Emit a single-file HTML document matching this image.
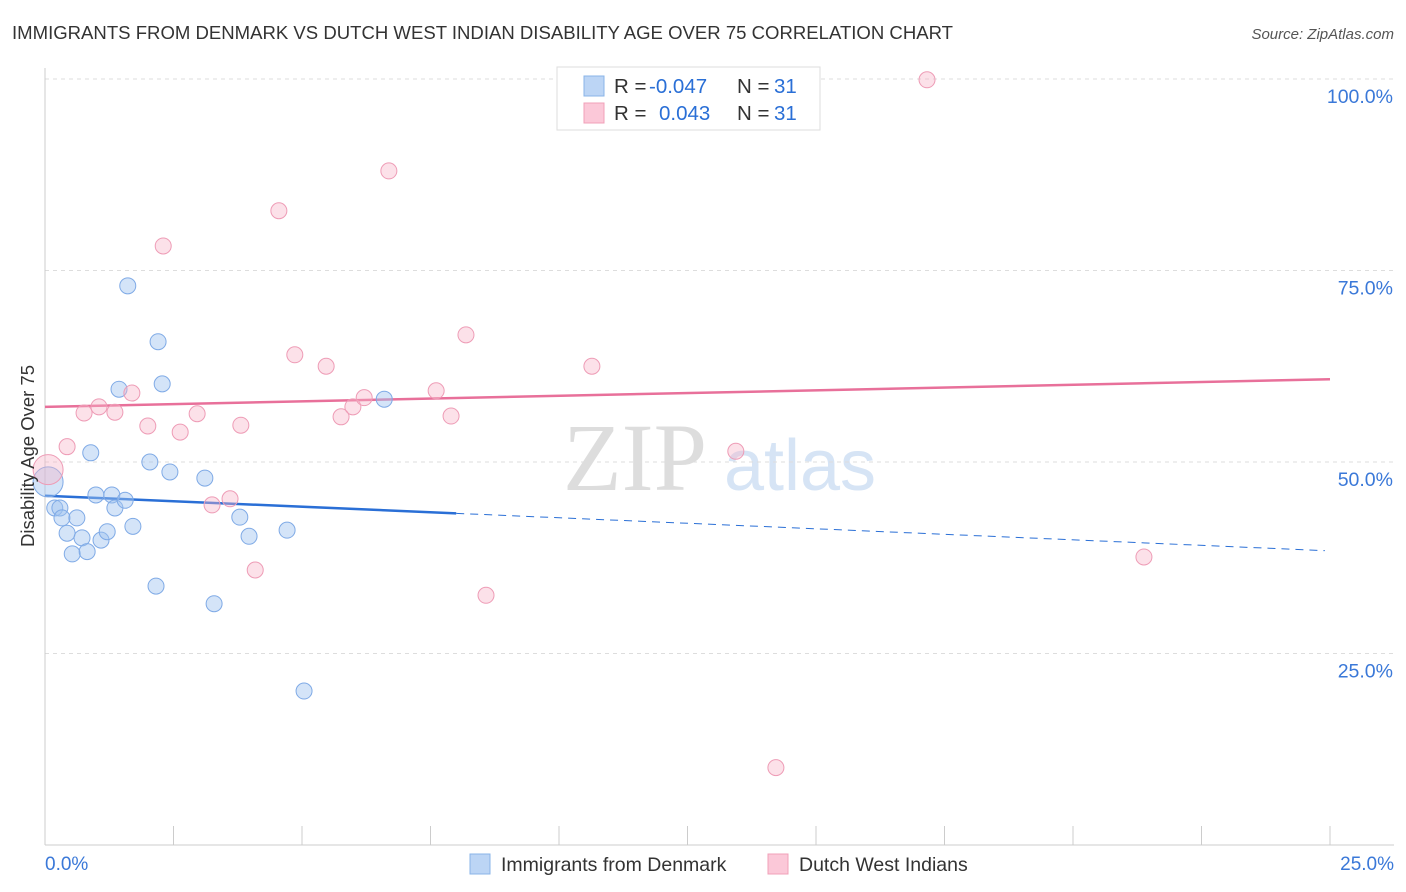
<!DOCTYPE html>
<html><head><meta charset="utf-8"><style>
body{margin:0;background:#fff;font-family:"Liberation Sans",sans-serif;}
svg{display:block}
</style></head><body>
<svg id="chart" width="1406" height="892">
<text x="12" y="39" font-size="18" fill="#333" textLength="941" lengthAdjust="spacingAndGlyphs">IMMIGRANTS FROM DENMARK VS DUTCH WEST INDIAN DISABILITY AGE OVER 75 CORRELATION CHART</text>
<text x="1394" y="39" font-size="15" fill="#555" font-style="italic" text-anchor="end">Source: ZipAtlas.com</text>
<g>
<text x="635" y="490" font-size="96" font-family="Liberation Serif,serif" fill="#ddd" text-anchor="middle">ZIP</text>
<text x="800" y="490" font-size="72" fill="#d6e4f5" text-anchor="middle">atlas</text>
</g>
<g id="grid"></g>
<g id="axes"></g>
<g id="lines"></g>
<g id="points"></g>
<text transform="translate(34,456) rotate(-90)" font-size="18.5" fill="#333" text-anchor="middle">Disability Age Over 75</text>
<text x="45" y="870" font-size="19" fill="#3a78d8">0.0%</text>
<text x="1394" y="870" font-size="19" fill="#3a78d8" text-anchor="end">25.0%</text>
<g>
<rect x="557" y="67" width="263" height="63" fill="#fff" stroke="#ddd"/>
<rect x="584" y="76" width="20" height="20" fill="#bcd5f5" stroke="#8ab4e8"/>
<rect x="584" y="103" width="20" height="20" fill="#fbc8d8" stroke="#f0a0b8"/>
<text x="614" y="93" font-size="20.5" fill="#333">R = <tspan x="649" fill="#2a6fd6">-0.047</tspan><tspan x="737">N = </tspan><tspan x="774" fill="#2a6fd6">31</tspan></text>
<text x="614" y="120" font-size="20.5" fill="#333">R = <tspan x="659" fill="#2a6fd6">0.043</tspan><tspan x="737">N = </tspan><tspan x="774" fill="#2a6fd6">31</tspan></text>
</g>
<g>
<rect x="470" y="854" width="20" height="20" fill="#bcd5f5" stroke="#8ab4e8"/>
<text x="501" y="871" font-size="19.5" fill="#333">Immigrants from Denmark</text>
<rect x="768" y="854" width="20" height="20" fill="#fbc8d8" stroke="#f0a0b8"/>
<text x="799" y="871" font-size="19.5" fill="#333">Dutch West Indians</text>
</g>
</svg>
<script>
const yTicks=[25,50,75,100];
const yTickLabels=["25.0%","50.0%","75.0%","100.0%"];
const xTicks=[0,2.5,5,7.5,10,12.5,15,17.5,20,22.5,25];
const blueX=[0.06,0.19,0.29,0.33,0.43,0.53,0.62,0.72,0.82,0.89,0.99,1.09,1.21,1.30,1.36,1.44,1.56,1.61,1.71,2.04,2.16,2.20,2.28,2.43,3.11,3.29,3.79,3.97,4.71,5.04,6.60];
const blueY=[47.4,44.0,44.0,42.7,40.7,38.0,42.7,40.1,38.3,51.2,45.7,39.8,40.9,45.7,44.0,59.5,45.0,73.0,41.6,50.0,33.8,65.7,60.2,48.7,47.9,31.5,42.8,40.3,41.1,20.1,58.2];
const pinkX=[0.06,0.43,0.76,1.05,1.36,1.69,2.00,2.30,2.63,2.96,3.25,3.60,3.81,4.09,4.55,4.86,5.47,5.76,5.99,6.21,6.69,7.61,7.90,8.19,8.58,10.64,13.44,14.22,17.16,21.38];
const pinkY=[49.0,52.0,56.4,57.2,56.5,59.0,54.7,78.2,53.9,56.3,44.4,45.2,54.8,35.9,82.8,64.0,62.5,55.9,57.2,58.4,88.0,59.3,56.0,66.6,32.6,62.5,51.4,10.1,99.9,37.6];
const blueTrend=[45.6,38.4];
const pinkTrend=[57.2,60.8];
const blueSolidEnd=8.0;
const NS="http://www.w3.org/2000/svg";
const X=v=>45+v/25*1285;
const Y=v=>845-v/100*766;
function mk(tag,attrs,parent){const e=document.createElementNS(NS,tag);for(const k in attrs)e.setAttribute(k,attrs[k]);parent.appendChild(e);return e;}
const grid=document.getElementById('grid'),axes=document.getElementById('axes'),lines=document.getElementById('lines'),pts=document.getElementById('points');
yTicks.forEach((t,i)=>{
 const l=mk('line',{x1:45,x2:1394,y1:Y(t),y2:Y(t),stroke:'#ddd','stroke-dasharray':'4,4'},grid);
 
 
 const tx=mk('text',{x:1393,y:Y(t)+24,'font-size':19.5,fill:'#3a78d8','text-anchor':'end'},grid);
 tx.textContent=yTickLabels[i];
 
 
});
const ya=mk('line',{x1:45,x2:45,y1:68,y2:845,stroke:'#ccc'},axes);


const xa=mk('line',{x1:45,x2:1394,y1:845,y2:845,stroke:'#ccc'},axes);


xTicks.forEach(t=>{
 const l=mk('line',{x1:X(t),x2:X(t),y1:826,y2:845,stroke:'#ccc'},axes);
 
 
});
const by=x=>blueTrend[0]+(blueTrend[1]-blueTrend[0])*x/25;
const b1=mk('line',{x1:X(0),y1:Y(blueTrend[0]),x2:X(blueSolidEnd),y2:Y(by(blueSolidEnd)),stroke:'#2a6fd6','stroke-width':2.5},lines);


const b2=mk('line',{x1:X(blueSolidEnd),y1:Y(by(blueSolidEnd)),x2:X(24.9),y2:Y(by(24.9)),stroke:'#2a6fd6','stroke-width':1,'stroke-dasharray':'8,6'},lines);


const p1=mk('line',{x1:X(0),y1:Y(pinkTrend[0]),x2:X(25),y2:Y(pinkTrend[1]),stroke:'#e8709a','stroke-width':2.5},lines);


blueX.forEach((x,i)=>{
 const c=mk('circle',{cx:X(x),cy:Y(blueY[i]),r:i===0?15:8,fill:'rgba(160,195,240,0.45)',stroke:'#7faae6','stroke-width':1},pts);
 
 
});
pinkX.forEach((x,i)=>{
 const c=mk('circle',{cx:X(x),cy:Y(pinkY[i]),r:i===0?15:8,fill:'rgba(248,180,200,0.4)',stroke:'#ee9cb6','stroke-width':1},pts);
 
 
});
</script>
</body></html>
